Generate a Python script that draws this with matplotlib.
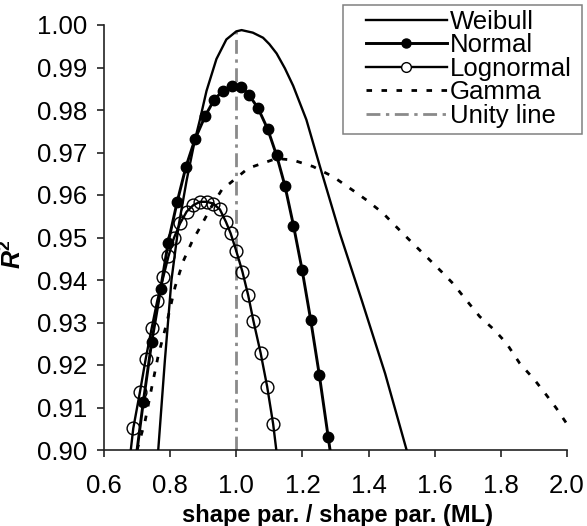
import matplotlib
matplotlib.use('Agg')
import matplotlib.pyplot as plt
from matplotlib.lines import Line2D
from matplotlib.patches import Rectangle

plt.rcParams['font.family'] = ['Liberation Sans', 'DejaVu Sans']
plt.rcParams['mathtext.fontset'] = 'custom'
plt.rcParams['mathtext.rm'] = 'Liberation Sans'
plt.rcParams['mathtext.it'] = 'Liberation Sans:italic'
plt.rcParams['mathtext.bf'] = 'Liberation Sans:bold'
plt.rcParams['mathtext.bfit'] = 'Liberation Sans:bold:italic'

# ---------------- data ----------------
weibull_x = [0.764, 0.784, 0.804, 0.825, 0.850, 0.875, 0.890, 0.910, 0.940, 0.970, 1.000, 1.016,
             1.050, 1.081, 1.100, 1.122, 1.147, 1.172, 1.212, 1.253, 1.313, 1.379, 1.450, 1.515]
weibull_y = [0.900, 0.921, 0.940, 0.9525, 0.9635, 0.9730, 0.9777, 0.9845, 0.9920, 0.9966, 0.9985, 0.9988,
             0.9982, 0.9970, 0.9955, 0.9933, 0.9898, 0.9857, 0.9777, 0.9667, 0.9510, 0.9353, 0.9180, 0.900]

normal_x = [0.700, 0.719, 0.744, 0.771, 0.794, 0.821, 0.848, 0.875, 0.906, 0.933, 0.959, 0.988,
            1.015, 1.039, 1.066, 1.095, 1.122, 1.147, 1.173, 1.199, 1.225, 1.251, 1.278, 1.2835]
normal_y = [0.900, 0.9114, 0.9253, 0.9378, 0.9488, 0.9583, 0.9667, 0.9731, 0.9786, 0.9824, 0.9845, 0.9857,
            0.9855, 0.9835, 0.9804, 0.9755, 0.9693, 0.9622, 0.9528, 0.9424, 0.9306, 0.9177, 0.9030, 0.900]

lognormal_x = [0.681, 0.6885, 0.7088, 0.726, 0.744, 0.761, 0.779, 0.795, 0.8115, 0.830, 0.850, 0.870,
               0.890, 0.910, 0.930, 0.9505, 0.9686, 0.9828, 0.9997, 1.0184, 1.036, 1.0517, 1.0734,
               1.0934, 1.1115, 1.121]
lognormal_y = [0.900, 0.9051, 0.9137, 0.9214, 0.9286, 0.9351, 0.9406, 0.9456, 0.9499, 0.9533, 0.9561, 0.9576,
               0.9584, 0.9584, 0.9580, 0.9566, 0.9537, 0.9510, 0.9469, 0.9420, 0.9364, 0.9304, 0.9229,
               0.9149, 0.9061, 0.900]

gamma_x = [0.700, 0.724, 0.744, 0.764, 0.790, 0.815, 0.840, 0.866, 0.900, 0.930, 0.956, 0.986, 1.036,
           1.081, 1.122, 1.172, 1.232, 1.293, 1.358, 1.394, 1.444, 1.484, 1.534, 1.580, 1.620, 1.655,
           1.691, 1.736, 1.781, 1.817, 1.857, 1.902, 1.938, 1.968, 2.000]
gamma_y = [0.900, 0.9067, 0.9146, 0.9222, 0.9300, 0.9384, 0.9445, 0.9490, 0.9537, 0.9580, 0.9612, 0.9631,
           0.9663, 0.9675, 0.9686, 0.9682, 0.9667, 0.9643, 0.9608, 0.9588, 0.9557, 0.9525, 0.9486, 0.9451,
           0.9420, 0.9392, 0.9357, 0.9314, 0.9282, 0.9251, 0.9204, 0.9165, 0.9129, 0.9098, 0.9061]

unity_x = 1.0

x_ticks = [0.6, 0.8, 1.0, 1.2, 1.4, 1.6, 1.8, 2.0]
x_ticklabels = ['0.6', '0.8', '1.0', '1.2', '1.4', '1.6', '1.8', '2.0']
y_ticks = [0.90, 0.91, 0.92, 0.93, 0.94, 0.95, 0.96, 0.97, 0.98, 0.99, 1.00]
y_ticklabels = ['0.90', '0.91', '0.92', '0.93', '0.94', '0.95', '0.96', '0.97', '0.98', '0.99', '1.00']

legend_labels = ['Weibull', 'Normal', 'Lognormal', 'Gamma', 'Unity line']

# ---------------- figure ----------------
W, H = 587, 526
fig = plt.figure(figsize=(W / 100, H / 100), dpi=100)
ax = fig.add_axes([104 / W, 76 / H, 463 / W, 425 / H])

unity_style = dict(color='#8a8a8a', lw=2.0, ls=(0, (5.0, 2.0, 1.2, 2.0)))
gamma_style = dict(color='black', lw=2.0, ls=(0, (2.0, 3.4)))

ax.axvline(unity_x, **unity_style, zorder=1)
ax.plot(gamma_x, gamma_y, **gamma_style, zorder=2)
ax.plot(weibull_x, weibull_y, color='black', lw=1.7, zorder=3)
ax.plot(normal_x, normal_y, color='black', lw=2.1, marker='o', ms=7.5, mfc='black', mec='black',
        markevery=slice(1, len(normal_x) - 1), zorder=4)
ax.plot(lognormal_x, lognormal_y, color='black', lw=1.7, marker='o', ms=9.2, mfc='none', mec='black',
        mew=1.0, markevery=slice(1, len(lognormal_x) - 1), zorder=5)

ax.set_xlim(0.6, 2.0)
ax.set_ylim(0.90, 1.00)
ax.set_xticks(x_ticks)
ax.set_xticklabels(x_ticklabels)
ax.set_yticks(y_ticks)
ax.set_yticklabels(y_ticklabels)

for s in ['top', 'right']:
    ax.spines[s].set_visible(False)
for s in ['left', 'bottom']:
    ax.spines[s].set_linewidth(1.2)
    ax.spines[s].set_color('#222222')

ax.tick_params(axis='both', direction='out', length=5, width=1.2, color='#222222', labelsize=18.5)
ax.tick_params(axis='x', pad=12)
ax.tick_params(axis='y', pad=7)

ax.set_xlabel('shape par. / shape par. (ML)', fontsize=17, fontweight='bold')
ax.xaxis.set_label_coords(0.504, -0.128)
ax.set_ylabel(r'$\mathbfit{R}^{\mathbf{2}}$', fontsize=18)
ax.yaxis.label.set_verticalalignment('center')
ax.yaxis.label.set_horizontalalignment('center')
ax.yaxis.set_label_coords((13 - 104) / 463, (450 - 254) / 425)

handles = [
    Line2D([], [], color='black', lw=1.7),
    Line2D([], [], color='black', lw=2.1, marker='o', ms=6.5, mfc='black'),
    Line2D([], [], color='black', lw=1.7, marker='o', ms=7, mfc='white', mew=1.0),
    Line2D([], [], **gamma_style),
    Line2D([], [], **unity_style),
]
leg = ax.legend(handles, legend_labels, loc='upper left',
                bbox_to_anchor=(366 / W, 1 - 10 / H), bbox_transform=fig.transFigure,
                borderaxespad=0, borderpad=0, frameon=False, fontsize=18.5,
                handlelength=3.15, handletextpad=0.1, labelspacing=-0.02)

fig.add_artist(Rectangle((343.3 / W, 1 - 134.3 / H), (581.7 - 343.3) / W, (134.3 - 5) / H,
                         transform=fig.transFigure, fill=False, edgecolor='#808080', lw=1.1))

fig.savefig('out.png', dpi=100)
